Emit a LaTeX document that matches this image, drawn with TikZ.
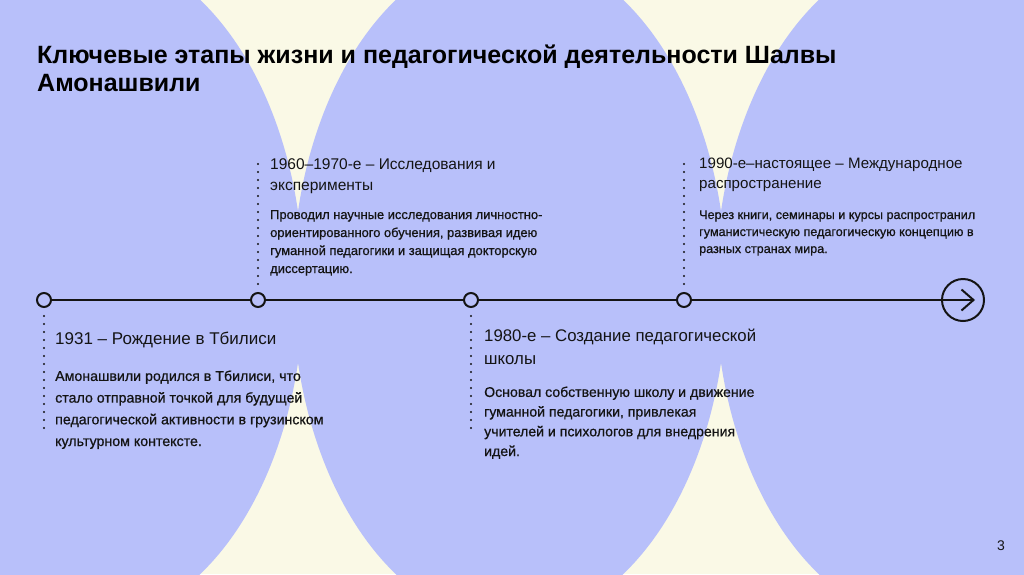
\documentclass[tikz,border=0pt]{standalone}
\usepackage{fontspec}
\setmainfont{Liberation Sans}
\usepackage{tikz}
\usetikzlibrary{arrows.meta}
\definecolor{lavender}{RGB}{184,192,250}
\definecolor{cream}{RGB}{250,249,230}
\definecolor{ink}{RGB}{20,20,20}

\begin{document}
\begin{tikzpicture}[x=1pt,y=-1pt,
  stop/.style={circle,draw=ink,line width=2pt,fill=lavender,minimum size=14pt,inner sep=0pt},
  dotline/.style={ink,line width=2.4pt,line cap=round,dash pattern=on 0pt off 8pt},
  % anchor base = baseline of the last line
  heading/.style 2 args={anchor=base west,align=left,inner sep=0pt,text=ink,
    font=\fontsize{#1}{#2}\selectfont},
  body/.style 2 args={anchor=base west,align=left,inner sep=0pt,text=ink,
    font=\fontsize{#1}{#2}\selectfont\addfontfeature{FakeBold=0.7}}]
  \useasboundingbox (0,0) rectangle (1024,574);
  % background
  \fill[cream] (0,0) rectangle (1024,574);
  \begin{scope}
    \clip (0,0) rectangle (1024,574);
    \fill[lavender] (86.5,287) ellipse [x radius=217, y radius=337];
    \fill[lavender] (509.5,287) ellipse [x radius=217, y radius=337];
    \fill[lavender] (932.5,287) ellipse [x radius=217, y radius=337];
  \end{scope}
  % title
  \node[anchor=base west,align=left,inner sep=0pt,font=\fontsize{25}{28}\selectfont\bfseries]
    (title) at (37,91) {Ключевые этапы жизни и педагогической деятельности Шалвы\\Амонашвили};
  % timeline
  \node[stop] (p1) at (44,300) {};
  \node[stop] (p2) at (258,300) {};
  \node[stop] (p3) at (471,300) {};
  \node[stop] (p4) at (684,300) {};
  \node[circle,draw=ink,line width=2pt,minimum size=42pt,inner sep=0pt] (endc) at (963,300) {};
  \coordinate (tip) at (975,300);
  \draw[ink,line width=2pt] (p1) -- (p2);
  \draw[ink,line width=2pt] (p2) -- (p3);
  \draw[ink,line width=2pt] (p3) -- (p4);
  \draw[ink,line width=2pt,-{Straight Barb[length=12pt,width=21pt]}] (p4) -- (tip);
  % dotted leaders
  \coordinate (d1) at (44,432);
  \coordinate (d2) at (258,160);
  \coordinate (d3) at (471,432);
  \coordinate (d4) at (684,162);
  \draw[dotline] (p1.south) ++(0,8) -- (d1);
  \draw[dotline] (p2.north) ++(0,-8) -- (d2);
  \draw[dotline] (p3.south) ++(0,8) -- (d3);
  \draw[dotline] (p4.north) ++(0,-8) -- (d4);
  % 1931
  \node[heading={17}{22}] (h1) at (55,344) {1931 – Рождение в Тбилиси};
  \node[body={14.2}{21.7}] (b1) at (55,446) {Амонашвили родился в Тбилиси, что\\стало отправной точкой для будущей\\педагогической активности в грузинском\\культурном контексте.};
  % 1960-1970
  \node[heading={15.5}{21}] (h2) at (270,190) {1960–1970-е – Исследования и\\эксперименты};
  \node[body={12.9}{18}] (b2) at (270,273) {Проводил научные исследования личностно-\\ориентированного обучения, развивая идею\\гуманной педагогики и защищая докторскую\\диссертацию.};
  % 1980
  \node[heading={16.8}{23}] (h3) at (484,364) {1980-е – Создание педагогической\\школы};
  \node[body={14.1}{19.7}] (b3) at (484,456) {Основал собственную школу и движение\\гуманной педагогики, привлекая\\учителей и психологов для внедрения\\идей.};
  % 1990
  \node[heading={15.1}{20}] (h4) at (699,188) {1990-е–настоящее – Международное\\распространение};
  \node[body={12.6}{17}] (b4) at (699,253) {Через книги, семинары и курсы распространил\\гуманистическую педагогическую концепцию в\\разных странах мира.};
  % page number
  \node[anchor=base,inner sep=0pt,text=ink,font=\fontsize{14}{16}\selectfont] (page) at (1001,550) {3};
\end{tikzpicture}
\end{document}
